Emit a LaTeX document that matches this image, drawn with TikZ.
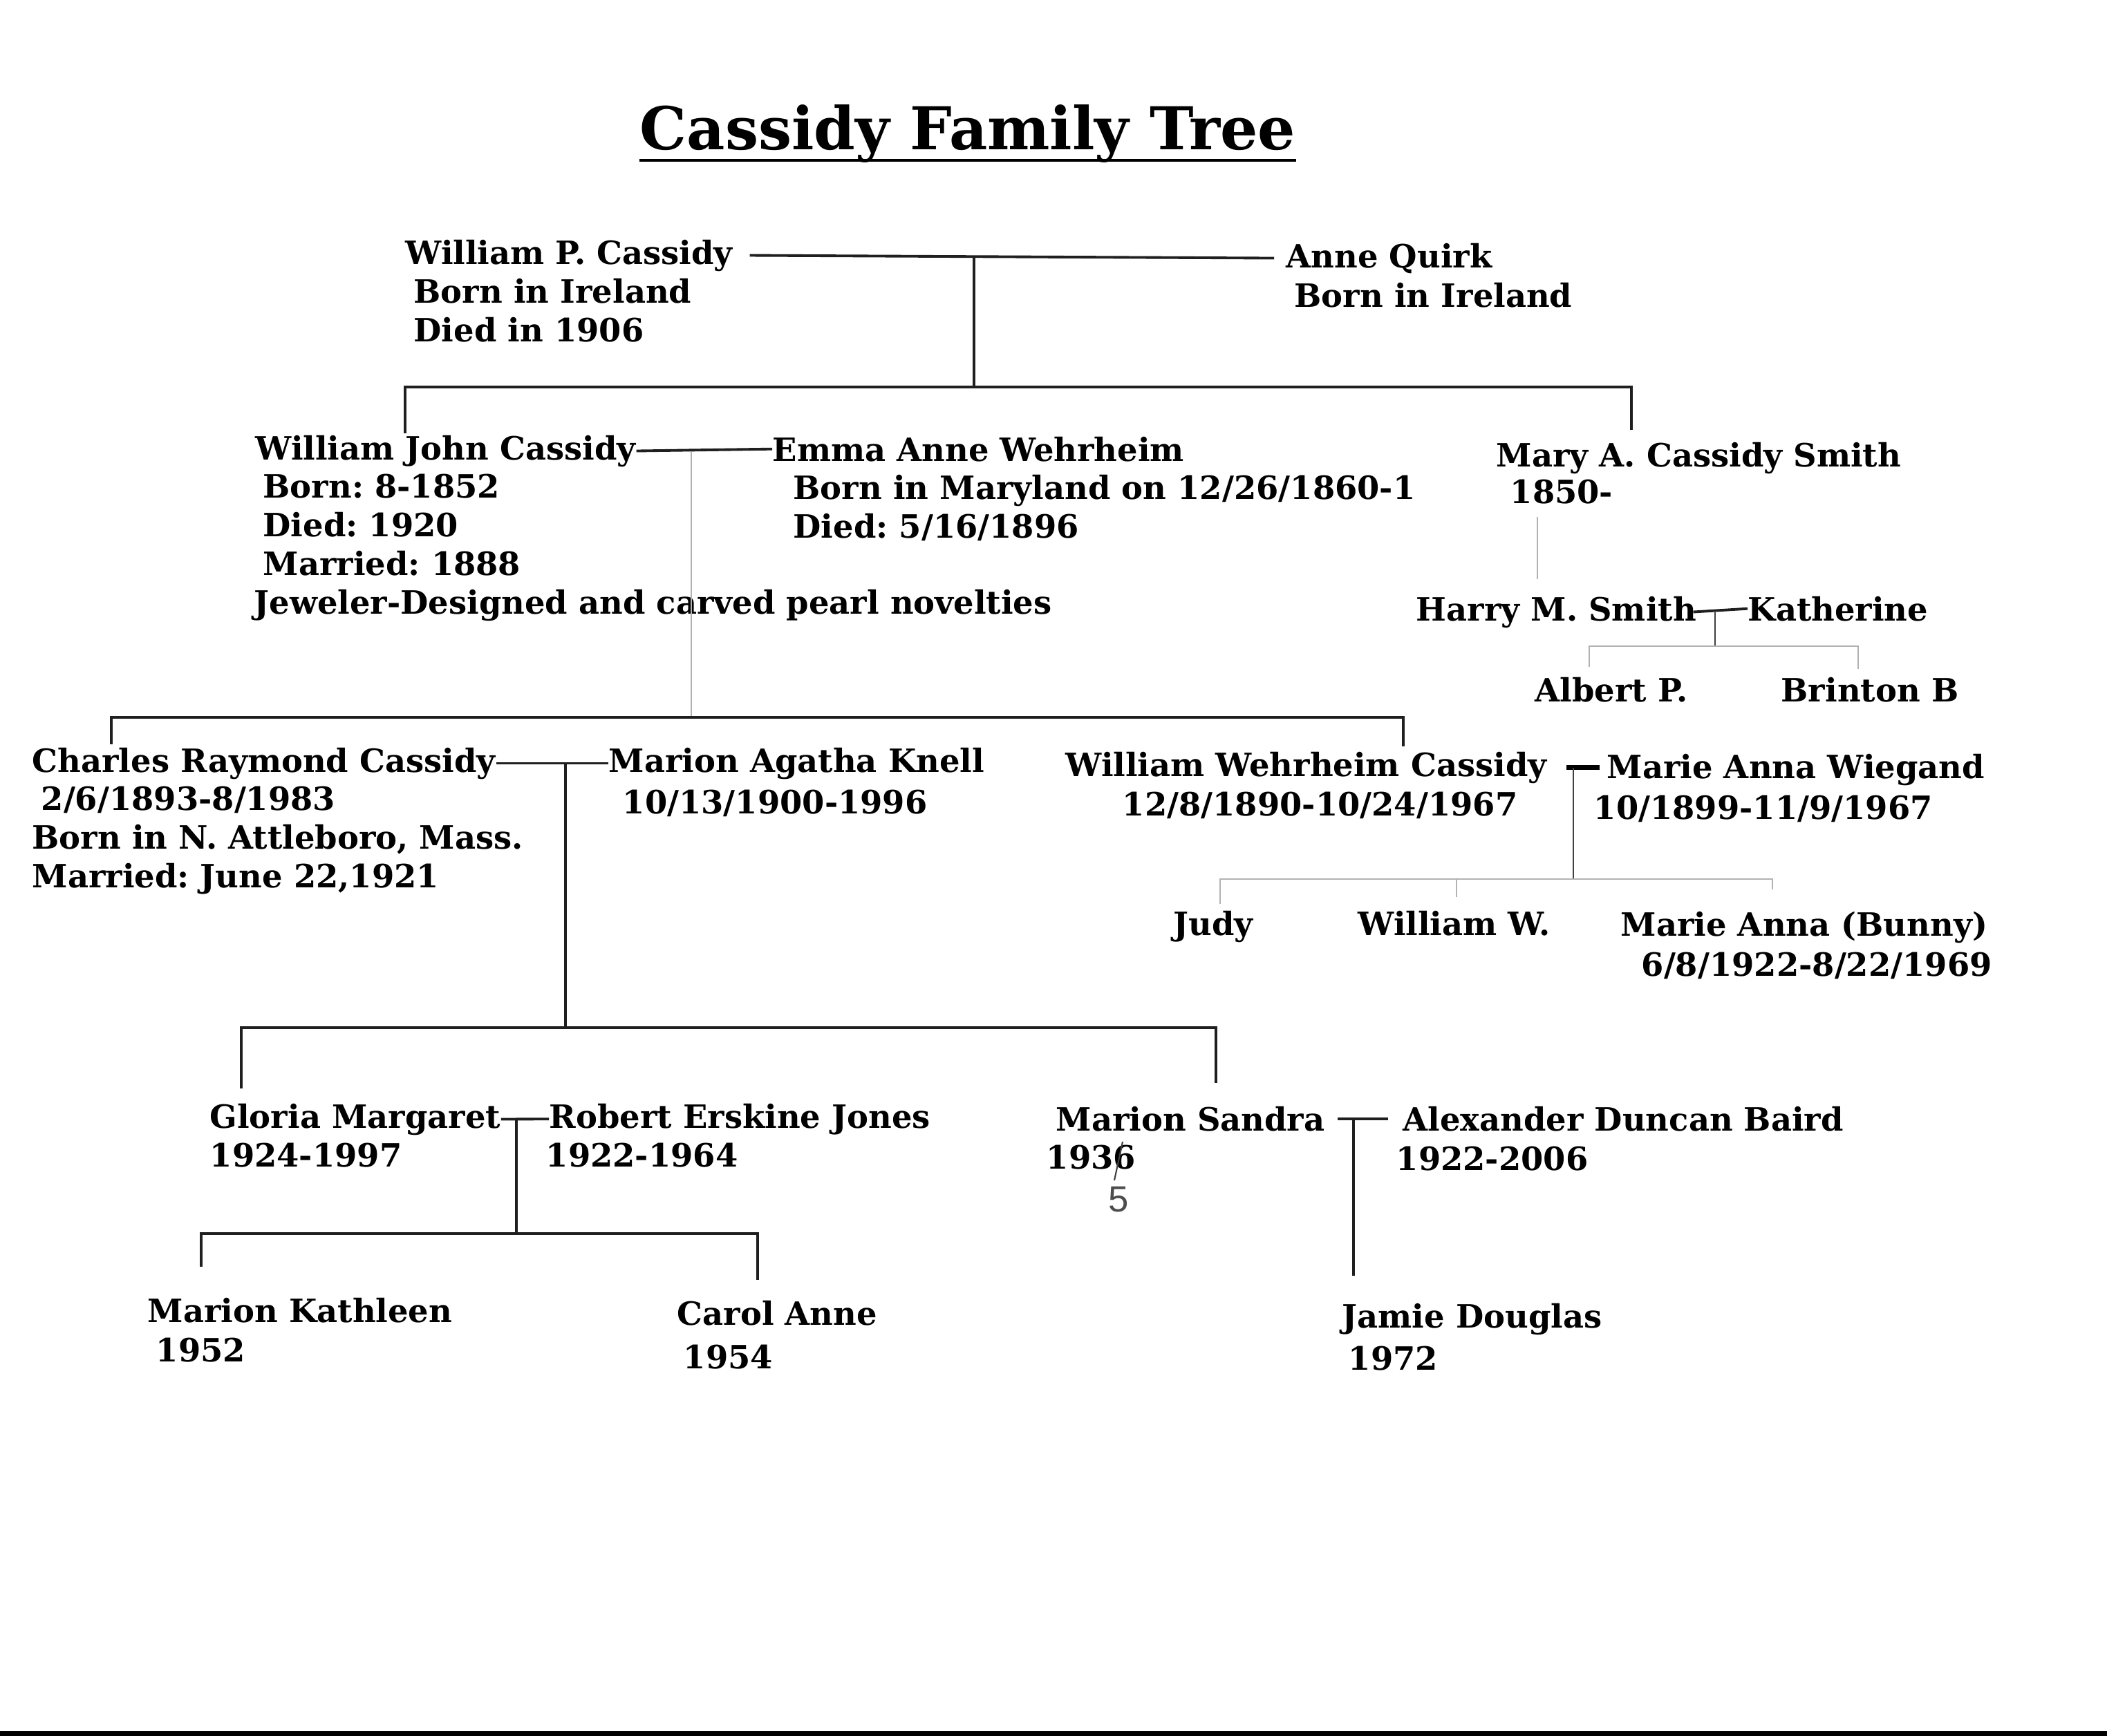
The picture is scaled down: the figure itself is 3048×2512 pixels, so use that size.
\documentclass[tikz,border=0pt]{standalone}
\usepackage{fontspec}
\setmainfont{DejaVu Serif}
\newfontfamily\handfont{Liberation Sans}
\usetikzlibrary{calc}
\frenchspacing
\newcommand\pfont{\fontsize{13.2}{15.9}\selectfont\bfseries}
\newcommand\ind[1]{\hspace*{#1mm}}
\tikzset{
  person/.style={anchor=base west,inner sep=0pt,font=\pfont},
  info/.style={anchor=base west,inner sep=0pt,align=left,font=\pfont},
  ln/.style={line width=1.1pt,draw=black!88},
  tick/.style={line width=0.6pt,draw=black!75},
  faint/.style={line width=0.5pt,draw=black!30}
}
\begin{document}
\begin{tikzpicture}[x=0.01cm,y=-0.01cm]
  \useasboundingbox (0,0) rectangle (3048,2512);
  \node[font=\fontsize{24.3}{30}\selectfont\bfseries,anchor=base,inner sep=0pt] (title) at (1400,216) {Cassidy Family Tree};
  \draw[line width=1.3pt] ([yshift=-0.16cm]title.base west) -- ([yshift=-0.16cm]title.base east);

  % generation 1 (multi-line info nodes sit on their last baseline)
  \node[person] (wpc) at (586,382) {William P. Cassidy};
  \node[info] (wpc-d) at (598,494) {Born in Ireland\\Died in 1906};
  \node[person] (aq) at (1860,387) {Anne Quirk};
  \node[info] (aq-d) at (1872,444) {Born in Ireland};
  \coordinate (s1) at (1409,560);
  \coordinate (wjc-up) at (586,627);
  \coordinate (macs-up) at (2360,622);
  \draw[ln] ([xshift=0.24cm]wpc.east) -- ([xshift=-0.17cm]aq.west);
  \draw[ln] (s1 |- wpc.east) -- (s1);
  \draw[ln] (wjc-up) |- (s1) -| (macs-up);

  % generation 2
  \node[person] (wjc) at (369,665) {William John Cassidy};
  \node[info] (wjc-d) at (367,888) {\ind{1.3}Born: 8-1852\\\ind{1.3}Died: 1920\\\ind{1.3}Married: 1888\\Jeweler-Designed and carved pearl novelties};
  \node[person] (eaw) at (1117,667) {Emma Anne Wehrheim};
  \node[info] (eaw-d) at (1147,778) {Born in Maryland on 12/26/1860-1\\Died: 5/16/1896};
  \node[person] (macs) at (2164,675) {Mary A. Cassidy Smith};
  \node[info] (macs-d) at (2184,728) {1850-};
  \draw[ln] (wjc.east) -- (eaw.west);
  \coordinate (s2) at (1000,1038);
  \coordinate (crc-up) at (161,1077);
  \coordinate (wwc-up) at (2030,1080);
  \draw[faint] (s2 |- wjc.east) -- (s2);
  \draw[ln] (crc-up) |- (s2) -| (wwc-up);

  % Smith branch
  \node[person] (hms) at (2048,898) {Harry M. Smith};
  \node[person] (kath) at (2528,898) {Katherine};
  \node[person] (alb) at (2220,1015) {Albert P.};
  \node[person] (brin) at (2576,1015) {Brinton B};
  \coordinate (h-top) at (2224,748);
  \coordinate (h-bot) at (2224,838);
  \draw[faint] (h-top) -- (h-bot);
  \draw[ln] ([xshift=-0.05cm]hms.east) -- (kath.west);
  \coordinate (s4) at (2481,935);
  \coordinate (alb-up) at (2299,965);
  \coordinate (brin-up) at (2688,968);
  \draw[tick] (s4 |- hms.east) -- (s4);
  \draw[faint] (alb-up) |- (s4) -| (brin-up);

  % generation 3
  \node[person] (crc) at (46,1117) {Charles Raymond Cassidy};
  \node[info] (crc-d) at (46,1284) {\ind{1.3}2/6/1893-8/1983\\Born in N. Attleboro, Mass.\\Married: June 22,1921};
  \node[person] (mak) at (880,1117) {Marion Agatha Knell};
  \node[info] (mak-d) at (900,1177) {10/13/1900-1996};
  \node[person] (wwc) at (1541,1123) {William Wehrheim Cassidy};
  \node[info] (wwc-d) at (1623,1180) {12/8/1890-10/24/1967};
  \node[person] (maw) at (2324,1126) {Marie Anna Wiegand};
  \node[info] (maw-d) at (2305,1185) {10/1899-11/9/1967};
  \draw[ln] (crc.east) -- (mak.west);
  \coordinate (s3) at (818,1487);
  \coordinate (gm-up) at (349,1575);
  \coordinate (ms-up) at (1759,1567);
  \draw[ln] (s3 |- crc.east) -- (s3);
  \draw[ln] (gm-up) |- (s3) -| (ms-up);
  \coordinate (s5) at (2276,1272);
  \draw[line width=2pt] ([xshift=-0.1cm]s5 |- wwc.east) -- ([xshift=0.38cm]s5 |- wwc.east);
  \coordinate (judy-up) at (1765,1308);
  \coordinate (wiw-up) at (2107,1298);
  \coordinate (mab-up) at (2564,1287);
  \draw[tick] (s5 |- wwc.east) -- (s5);
  \draw[faint] (judy-up) |- (s5) -| (mab-up);
  \draw[faint] (wiw-up) -- (wiw-up |- s5);
  \node[person] (judy) at (1697,1353) {Judy};
  \node[person] (wiw) at (1964,1353) {William W.};
  \node[person] (mab) at (2344,1354) {Marie Anna (Bunny)};
  \node[info] (mab-d) at (2374,1412) {6/8/1922-8/22/1969};

  % generation 4
  \node[person] (gm) at (303,1632) {Gloria Margaret};
  \node[info] (gm-d) at (303,1688) {1924-1997};
  \node[person] (rej) at (794,1632) {Robert Erskine Jones};
  \node[info] (rej-d) at (789,1688) {1922-1964};
  \node[person] (ms) at (1527,1636) {Marion Sandra};
  \node[info] (ms-d) at (1513,1691) {1936};
  \node[font=\handfont\fontsize{15}{18}\selectfont,text=black!70,inner sep=0pt] (fix) at (1618,1736) {5};
  \draw[tick] (1624,1652) -- (1612,1708);
  \node[person] (adb) at (2029,1636) {Alexander Duncan Baird};
  \node[info] (adb-d) at (2019,1693) {1922-2006};
  \draw[ln] (gm.east) -- (rej.west);
  \coordinate (s6) at (747,1785);
  \coordinate (mk-up) at (291,1833);
  \coordinate (ca-up) at (1096,1852);
  \draw[ln] (s6 |- gm.east) -- (s6);
  \draw[ln] (mk-up) |- (s6) -| (ca-up);
  \draw[ln] ([xshift=0.18cm]ms.east) -- ([xshift=-0.21cm]adb.west);
  \coordinate (s7) at (1958,1846);
  \draw[ln] (s7 |- ms.east) -- (s7);
  \node[person] (mk) at (213,1913) {Marion Kathleen};
  \node[info] (mk-d) at (225,1970) {1952};
  \node[person] (ca) at (979,1917) {Carol Anne};
  \node[info] (ca-d) at (988,1980) {1954};
  \node[person] (jd) at (1941,1921) {Jamie Douglas};
  \node[info] (jd-d) at (1950,1982) {1972};

  \fill (0,2505) rectangle (3048,2512);
\end{tikzpicture}
\end{document}
